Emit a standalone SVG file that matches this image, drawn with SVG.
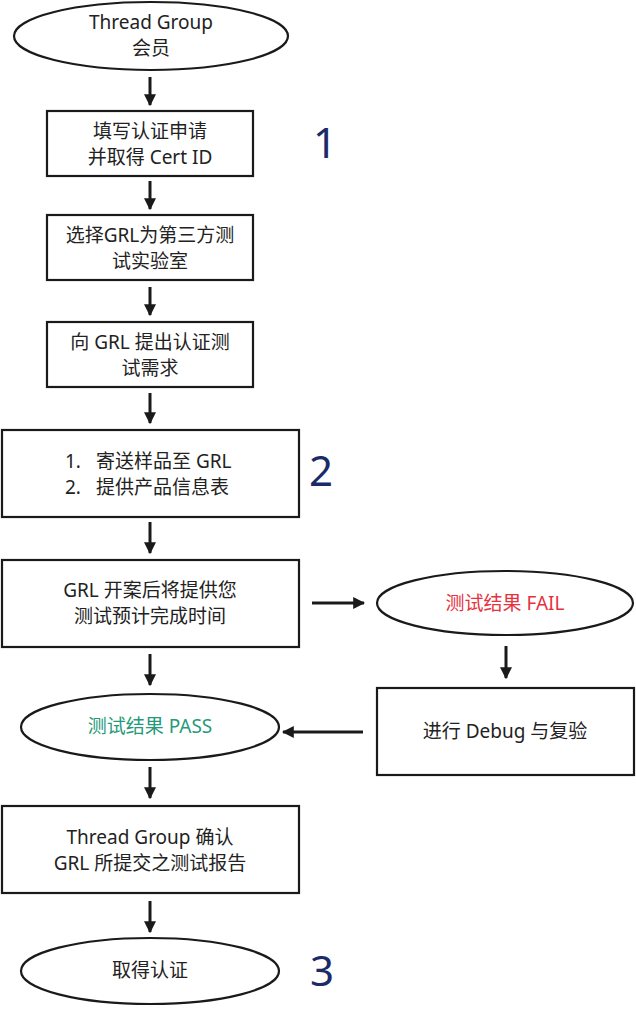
<svg xmlns="http://www.w3.org/2000/svg" width="636" height="1024" viewBox="0 0 636 1024">
<style>
.s{fill:#fff;stroke:#1a1a1a;stroke-width:2.2}
.t{font-family:"Noto Sans","Noto Sans CJK SC",sans-serif;font-size:19px;fill:#222;text-anchor:middle;dominant-baseline:central}
.l{text-anchor:start}
.n{font-family:"Noto Sans","Noto Sans CJK SC",sans-serif;font-size:42px;fill:#1b2a68;text-anchor:middle;dominant-baseline:central}
.c{stroke:#1a1a1a;stroke-width:3;fill:none}
</style>
<defs>
<marker id="ah" viewBox="0 0 10 10" refX="9" refY="5" markerWidth="4" markerHeight="4" markerUnits="strokeWidth" orient="auto">
<path d="M0,0L10,5L0,10z" fill="#1a1a1a"/>
</marker>
</defs>
<rect width="636" height="1024" fill="#fff"/>
<g id="connectors">
<line class="c" x1="150" y1="77" x2="150" y2="105" marker-end="url(#ah)"/>
<line class="c" x1="150" y1="181" x2="150" y2="209" marker-end="url(#ah)"/>
<line class="c" x1="150" y1="287" x2="150" y2="315" marker-end="url(#ah)"/>
<line class="c" x1="150" y1="393" x2="150" y2="423" marker-end="url(#ah)"/>
<line class="c" x1="150" y1="522" x2="150" y2="553" marker-end="url(#ah)"/>
<line class="c" x1="150" y1="654" x2="150" y2="685" marker-end="url(#ah)"/>
<line class="c" x1="312" y1="603" x2="364" y2="603" marker-end="url(#ah)"/>
<line class="c" x1="506" y1="646" x2="506" y2="678" marker-end="url(#ah)"/>
<line class="c" x1="363" y1="732" x2="283" y2="732" marker-end="url(#ah)"/>
<line class="c" x1="150" y1="767" x2="150" y2="798" marker-end="url(#ah)"/>
<line class="c" x1="150" y1="901" x2="150" y2="932" marker-end="url(#ah)"/>
</g>
<g id="start">
<ellipse class="s" cx="151" cy="36" rx="137" ry="34"/>
<text class="t"><tspan x="151" y="22">Thread Group</tspan><tspan x="151" y="48">会员</tspan></text>
</g>
<g id="step1">
<rect class="s" x="47" y="111" width="206" height="65"/>
<text class="t"><tspan x="150" y="131">填写认证申请</tspan><tspan x="150" y="157">并取得 Cert ID</tspan></text>
</g>
<g id="step2">
<rect class="s" x="47" y="215" width="206" height="65"/>
<text class="t"><tspan x="150" y="235">选择GRL为第三方测</tspan><tspan x="150" y="261">试实验室</tspan></text>
</g>
<g id="step3">
<rect class="s" x="47" y="322" width="206" height="65"/>
<text class="t"><tspan x="150" y="342">向 GRL 提出认证测</tspan><tspan x="150" y="368">试需求</tspan></text>
</g>
<g id="step4">
<rect class="s" x="2" y="430" width="297" height="87"/>
<text class="t l"><tspan x="65" y="461">1.</tspan><tspan x="96" y="461">寄送样品至 GRL</tspan><tspan x="65" y="487">2.</tspan><tspan x="96" y="487">提供产品信息表</tspan></text>
</g>
<g id="step5">
<rect class="s" x="2" y="560" width="297" height="87"/>
<text class="t"><tspan x="150" y="590">GRL 开案后将提供您</tspan><tspan x="150" y="616">测试预计完成时间</tspan></text>
</g>
<g id="fail">
<ellipse class="s" cx="505" cy="603" rx="128" ry="32"/>
<text class="t" x="505" y="603" style="fill:#e5323e">测试结果 FAIL</text>
</g>
<g id="debug">
<rect class="s" x="377" y="688" width="257" height="87"/>
<text class="t" x="505" y="731">进行 Debug 与复验</text>
</g>
<g id="pass">
<ellipse class="s" cx="150" cy="727" rx="129" ry="33"/>
<text class="t" x="150" y="726" style="fill:#25997a">测试结果 PASS</text>
</g>
<g id="step6">
<rect class="s" x="2" y="806" width="297" height="87"/>
<text class="t"><tspan x="150" y="837">Thread Group 确认</tspan><tspan x="150" y="863">GRL 所提交之测试报告</tspan></text>
</g>
<g id="end">
<ellipse class="s" cx="150" cy="971" rx="129" ry="33"/>
<text class="t" x="150" y="970">取得认证</text>
</g>
<g id="labels">
<text class="n" x="325" y="141">1</text>
<text class="n" x="321" y="469">2</text>
<text class="n" x="322" y="969">3</text>
</g>
</svg>
